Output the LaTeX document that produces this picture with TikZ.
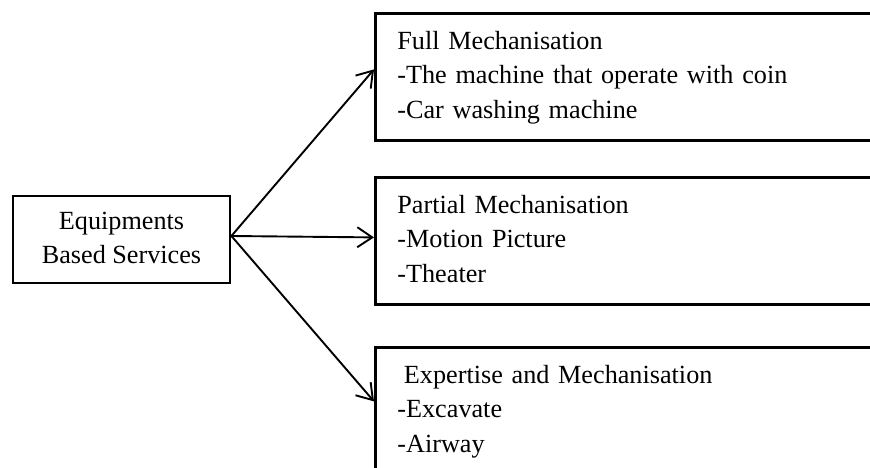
\documentclass[tikz,border=0pt]{standalone}
\usepackage{fontspec}
\setmainfont{Liberation Serif}
\usetikzlibrary{arrows.meta}

\tikzset{
  body/.style={font=\fontsize{26.2pt}{34.5pt}\selectfont},
  srcbox/.style={body, draw, line width=2.8pt, align=center,
    minimum width=217pt, minimum height=87pt, inner sep=0pt},
  catbox/.style={body, draw, line width=2.8pt, anchor=north west, align=left,
    text width=520pt, inner xsep=22pt, inner ysep=0pt, minimum height=127pt},
  arr/.style={line width=1.9pt, -{Straight Barb[length=15pt, width=20pt, line width=1.9pt]}}
}

\begin{document}
\begin{tikzpicture}[x=1pt, y=-1pt]
  \useasboundingbox (0,0) rectangle (870,468);

  % source
  \node[srcbox] (src) at (121.5,239.5) {\strut Equipments\\\strut Based Services};

  % categories
  \node[catbox] (full) at (374,12)
    {\strut Full Mechanisation\\\strut -The machine that operate with coin\\\strut -Car washing machine};
  \node[catbox] (part) at (374,176)
    {\strut Partial Mechanisation\\\strut -Motion Picture\\\strut -Theater};
  \node[catbox] (expt) at (374,346)
    {\strut\hspace*{0.25em}Expertise and Mechanisation\\\strut -Excavate\\\strut -Airway};

  % connectors
  \draw[arr] ([yshift=3.5pt]src.east) -- ([yshift=7.5pt]full.west);
  \draw[arr] ([yshift=3.5pt]src.east) -- ([yshift=3.5pt]part.west);
  \draw[arr] ([yshift=3.5pt]src.east) -- ([yshift=9.5pt]expt.west);
\end{tikzpicture}
\end{document}
